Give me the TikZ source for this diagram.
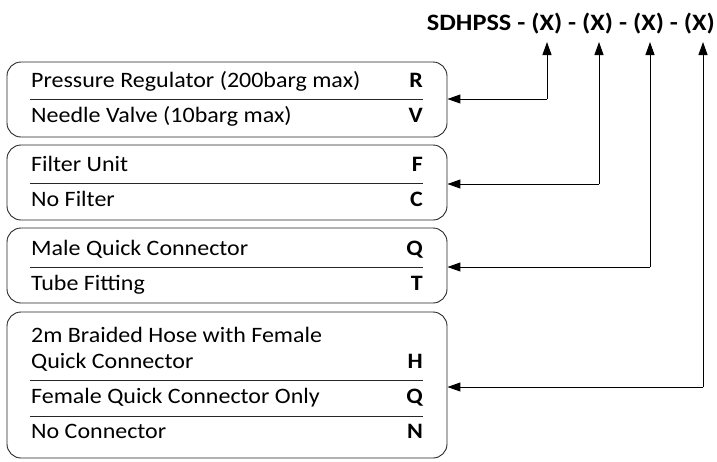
\documentclass[tikz,border=0pt]{standalone}
\usepackage{fontspec}
\setmainfont{Carlito}[FakeStretch=1.09]
\newfontfamily\titlefont{Carlito}[FakeStretch=1.12]
\usetikzlibrary{arrows.meta}
\begin{document}
\begin{tikzpicture}[x=1pt,y=-1pt,
  optbox/.style={draw=black!85,line width=0.9pt,rounded corners=14pt,minimum width=440pt,inner sep=0pt},
  lbl/.style={anchor=base west,inner sep=0pt,font=\fontsize{22}{26}\selectfont},
  code/.style={anchor=base east,inner sep=0pt,font=\fontsize{22}{26}\selectfont\bfseries},
  divider/.style={draw=black!85,line width=0.8pt},
  arr/.style={draw=black,line width=1pt,-{Triangle[length=13pt,width=9pt]}}]
\useasboundingbox (0,0) rectangle (717,461);
% title
\node[anchor=base east,inner sep=0pt,font=\titlefont\fontsize{23.5}{27}\selectfont\bfseries] (title) at (715,30) {SDHPSS - (X) - (X) - (X) - (X)};
\coordinate (x1) at (547,42);
\coordinate (x2) at (599,42);
\coordinate (x3) at (650,42);
\coordinate (x4) at (703,42);
% boxes
\node[optbox,minimum height=75pt] (b1) at (227,99.5) {};
\node[optbox,minimum height=75pt] (b2) at (227,182.5) {};
\node[optbox,minimum height=75pt] (b3) at (227,265.5) {};
\node[optbox,minimum height=146pt] (b4) at (227,385) {};
% box 1
\node[lbl] (t11) at (31,87) {Pressure Regulator (200barg max)};
\node[code] (c11) at (423,87) {R};
\draw[divider] (30,99) -- (423,99);
\node[lbl] (t12) at (31,122) {Needle Valve (10barg max)};
\node[code] (c12) at (423,122) {V};
% box 2
\node[lbl] (t21) at (31,171) {Filter Unit};
\node[code] (c21) at (423,171) {F};
\draw[divider] (30,183) -- (423,183);
\node[lbl] (t22) at (31,206) {No Filter};
\node[code] (c22) at (423,206) {C};
% box 3
\node[lbl] (t31) at (31,255) {Male Quick Connector};
\node[code] (c31) at (423,255) {Q};
\draw[divider] (30,267) -- (423,267);
\node[lbl] (t32) at (31,290) {Tube Fitting};
\node[code] (c32) at (423,290) {T};
% box 4
\node[lbl] (t41) at (31,342) {2m Braided Hose with Female};
\node[lbl] (t42) at (31,368) {Quick Connector};
\node[code] (c41) at (423,368) {H};
\draw[divider] (30,380) -- (423,380);
\node[lbl] (t43) at (31,403) {Female Quick Connector Only};
\node[code] (c43) at (423,403) {Q};
\draw[divider] (30,416) -- (423,416);
\node[lbl] (t44) at (31,438) {No Connector};
\node[code] (c44) at (423,438) {N};
% connectors
\draw[arr] (547,99) -- (b1.east |- 0,99);
\draw[arr] (547,99) -- (x1);
\draw[arr] (599,184) -- (b2.east |- 0,184);
\draw[arr] (599,184) -- (x2);
\draw[arr] (650,267) -- (b3.east |- 0,267);
\draw[arr] (650,267) -- (x3);
\draw[arr] (703,387) -- (b4.east |- 0,387);
\draw[arr] (703,387) -- (x4);
\end{tikzpicture}
\end{document}
